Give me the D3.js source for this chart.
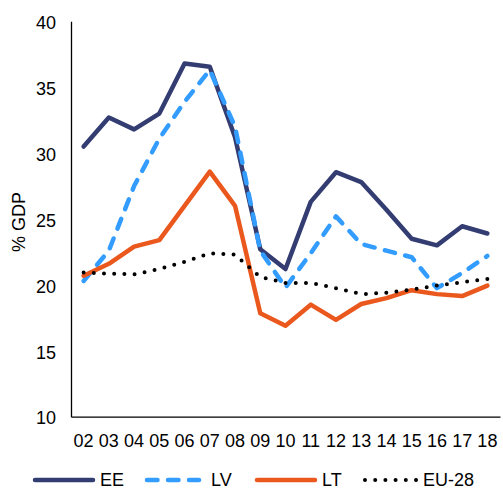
<!DOCTYPE html>
<html>
<head>
<meta charset="utf-8">
<script src="https://cdn.jsdelivr.net/npm/d3@7"></script>
<style>
  html, body { margin: 0; padding: 0; background: #fff; }
  svg { display: block; font-family: "Liberation Sans", Arial, sans-serif; }
</style>
</head>
<body>
<svg id="chart" width="503" height="490"></svg>
<script>
const years = ["02","03","04","05","06","07","08","09","10","11","12","13","14","15","16","17","18"];
const EE   = [30.5, 32.7, 31.8, 33.0, 36.8, 36.55, 31.2, 22.7, 21.2, 26.3, 28.55, 27.8, 25.7, 23.5, 23.0, 24.45, 23.9];
const LV   = [20.3, 22.6, 27.5, 31.1, 33.9, 36.3, 32.0, 22.6, 19.8, 22.4, 25.2, 23.1, 22.6, 22.1, 19.75, 20.9, 22.2];
const LT   = [20.7, 21.6, 22.9, 23.4, 26.0, 28.6, 26.0, 17.85, 16.9, 18.5, 17.35, 18.55, 19.0, 19.6, 19.3, 19.15, 19.95];
const EU28 = [20.95, 20.85, 20.8, 21.2, 21.75, 22.4, 22.3, 20.6, 20.15, 20.15, 19.75, 19.3, 19.4, 19.65, 19.95, 20.2, 20.45];
const yTicks = [10, 15, 20, 25, 30, 35, 40];
const seriesNames = ["EE", "LV", "LT", "EU-28"];

(function () {
const series = [
  { name: seriesNames[0], values: EE,   color: "#333d72", dash: null,        cap: "round" },
  { name: seriesNames[1], values: LV,   color: "#339cff", dash: "10.5,10.5", cap: "round" },
  { name: seriesNames[2], values: LT,   color: "#ea581e", dash: null,        cap: "round" },
  { name: seriesNames[3], values: EU28, color: "#000000", dash: "0,10.2",    cap: "round", width: 4 }
];

const svg = d3.select("#chart");
const mLeft = 71, mRight = 500, mTop = 21.3, mBottom = 416.7;

const x = d3.scaleBand().domain(years).range([mLeft, mRight]).padding(0);
const y = d3.scaleLinear().domain([10, 40]).range([mBottom, mTop]);
const cx = d => x(d) + x.bandwidth() / 2;

// Y axis
const yAxis = svg.append("g")
  .attr("transform", `translate(${mLeft},0)`)
  .call(d3.axisLeft(y).tickValues(yTicks).tickSizeInner(0).tickSizeOuter(0).tickPadding(15));
yAxis.select(".domain").attr("stroke", "#000").attr("stroke-width", 1.3);
yAxis.selectAll("text").attr("font-size", 18).attr("fill", "#000")
  .attr("font-family", "Liberation Sans, Arial, sans-serif").attr("dy", "0.4em");

// X axis
const xAxis = svg.append("g")
  .attr("transform", `translate(0,${mBottom})`)
  .call(d3.axisBottom(x).tickSizeInner(0).tickSizeOuter(0).tickPadding(17.5));
xAxis.select(".domain").attr("stroke", "#000").attr("stroke-width", 1.3);
xAxis.selectAll("text").attr("font-size", 18).attr("fill", "#000")
  .attr("font-family", "Liberation Sans, Arial, sans-serif");

// Y title
svg.append("text")
  .attr("transform", "translate(25,222) rotate(-90)")
  .attr("text-anchor", "middle")
  .attr("font-size", 18)
  .attr("fill", "#000")
  .text("% GDP");

// Lines
const line = d3.line().x((d, i) => cx(years[i])).y(d => y(d));
series.forEach(s => {
  svg.append("path")
    .datum(s.values)
    .attr("d", line)
    .attr("fill", "none")
    .attr("stroke", s.color)
    .attr("stroke-width", s.width || 4.5)
    .attr("stroke-linejoin", "round")
    .attr("stroke-linecap", s.cap)
    .attr("stroke-dasharray", s.dash);
});

// Legend
const legendItems = [
  { x1: 35, x2: 93, tx: 100 },
  { x1: 147, x2: 199, tx: 211 },
  { x1: 257, x2: 315, tx: 322 },
  { x1: 365, x2: 416, tx: 423 }
];
const legendY = 480;
series.forEach((s, i) => {
  const li = legendItems[i];
  svg.append("line")
    .attr("x1", li.x1).attr("x2", li.x2)
    .attr("y1", legendY).attr("y2", legendY)
    .attr("stroke", s.color)
    .attr("stroke-width", s.width || 4.5)
    .attr("stroke-linecap", s.cap)
    .attr("stroke-dasharray", s.dash);
  svg.append("text")
    .attr("x", li.tx).attr("y", legendY)
    .attr("dy", "0.36em")
    .attr("font-size", 18)
    .attr("fill", "#000")
    .text(s.name);
});
})();
</script>
</body>
</html>
